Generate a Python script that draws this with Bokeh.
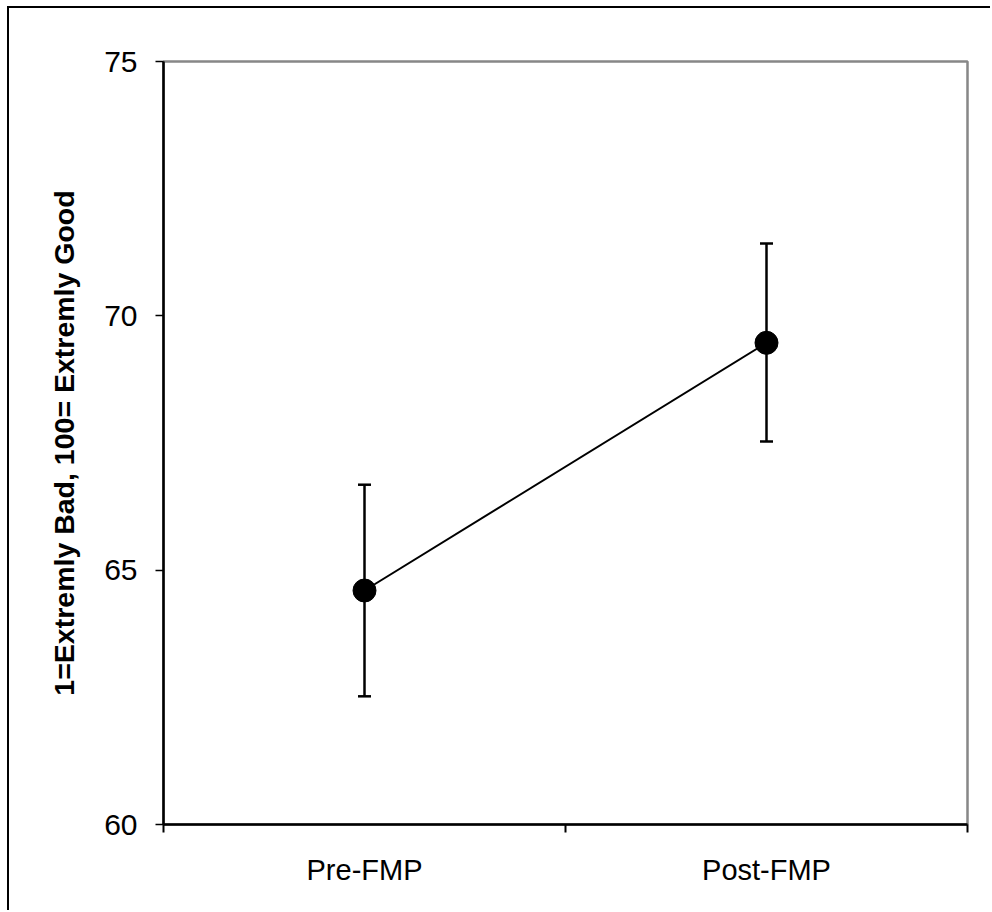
from bokeh.plotting import figure
from bokeh.models import ColumnDataSource, FixedTicker, Range1d, Whisker, TeeHead
from bokeh.embed import file_html
from bokeh.resources import INLINE

# Mean ratings before and after the programme, with error bar limits
categories = ["Pre-FMP", "Post-FMP"]
means = [64.6, 69.47]
lower = [62.52, 67.53]
upper = [66.68, 71.42]
y_ticks = [60, 65, 70, 75]
y_title = "1=Extremly Bad, 100= Extremly Good"

FONT = "Liberation Sans"

xpos = [i + 0.5 for i in range(len(categories))]
src = ColumnDataSource(dict(x=xpos, y=means, lo=lower, hi=upper))

# canvas starts at (9, 8) inside a left/top frame line
p = figure(width=983, height=904, output_backend="svg", toolbar_location=None,
           x_range=Range1d(0, len(categories)), y_range=Range1d(60, 75),
           min_border_left=154, min_border_right=25,
           min_border_top=53, min_border_bottom=88,
           styles={"margin-left": "7px", "margin-top": "6px",
                   "border-left": "2px solid black",
                   "border-top": "2px solid black"})

p.background_fill_color = "white"
p.border_fill_color = "white"
p.outline_line_color = "#878787"
p.outline_line_width = 2.5
p.xgrid.visible = False
p.ygrid.visible = False

# y axis
ya = p.yaxis[0]
ya.ticker = FixedTicker(ticks=y_ticks, minor_ticks=[])
ya.axis_line_color = "black"
ya.axis_line_width = 2.5
ya.major_tick_line_color = "black"
ya.major_tick_line_width = 1.5
ya.major_tick_out = 8
ya.major_tick_in = 0
ya.minor_tick_line_color = None
ya.major_label_text_font = FONT
ya.major_label_text_font_size = "30px"
ya.major_label_text_color = "black"
ya.major_label_standoff = 18
ya.axis_label = y_title
ya.axis_label_text_font = FONT
ya.axis_label_text_font_style = "bold"
ya.axis_label_text_font_size = "28.5px"
ya.axis_label_text_color = "black"
ya.axis_label_standoff = 21

# x axis: labels at category centres, tick marks at category boundaries
xa = p.xaxis[0]
xa.ticker = FixedTicker(ticks=xpos, minor_ticks=list(range(len(categories) + 1)))
xa.major_label_overrides = {x: c for x, c in zip(xpos, categories)}
xa.axis_line_color = "black"
xa.axis_line_width = 2.5
xa.major_tick_line_color = None
xa.major_tick_out = 0
xa.major_tick_in = 0
xa.minor_tick_line_color = "black"
xa.minor_tick_line_width = 2
xa.minor_tick_out = 8
xa.minor_tick_in = 0
xa.major_label_text_font = FONT
xa.major_label_text_font_size = "29px"
xa.major_label_text_color = "black"
xa.major_label_standoff = 21

# error bars
p.add_layout(Whisker(source=src, base="x", lower="lo", upper="hi",
                     line_color="black", line_width=2.5,
                     upper_head=TeeHead(size=13, line_width=2.5, line_color="black"),
                     lower_head=TeeHead(size=13, line_width=2.5, line_color="black"),
                     level="glyph"))

# connecting line and markers
p.line("x", "y", source=src, line_color="black", line_width=2)
p.scatter("x", "y", source=src, size=23, fill_color="black", line_color="black")

open("out.html", "w").write(file_html(p, INLINE))
